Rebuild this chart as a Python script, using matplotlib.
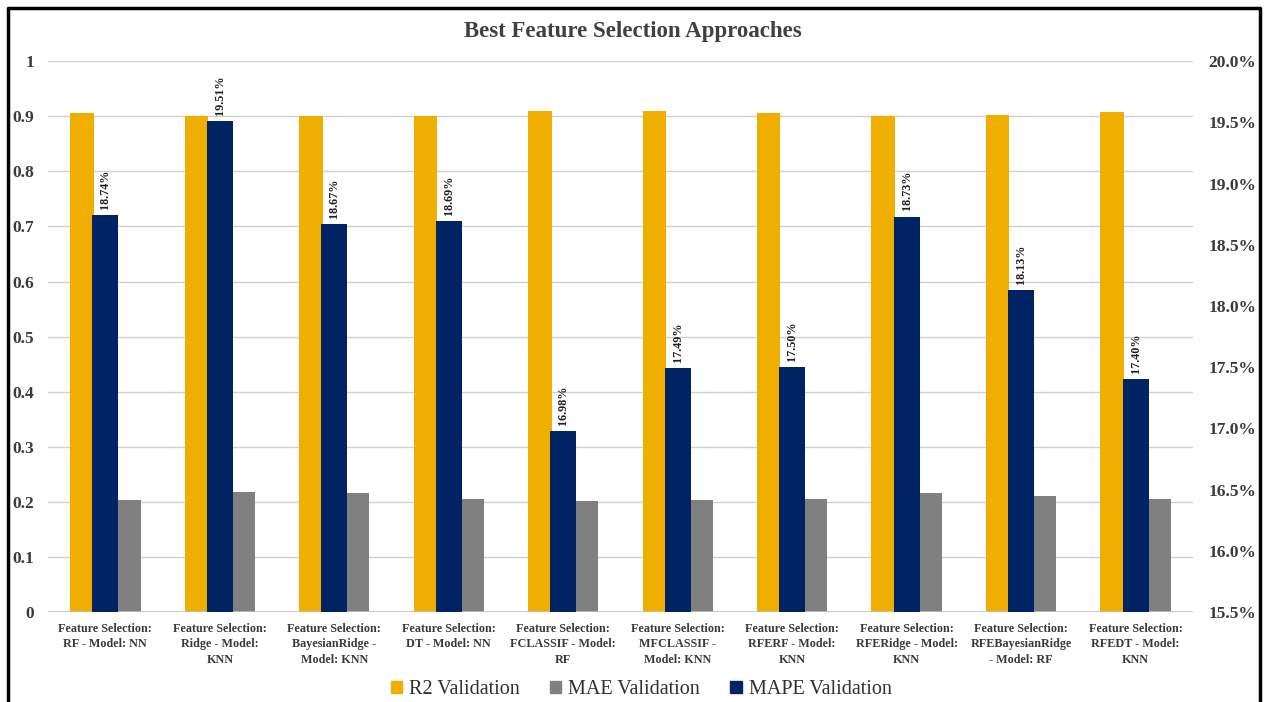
import numpy as np
import matplotlib
matplotlib.use("Agg")
import matplotlib.pyplot as plt
from matplotlib.patches import Patch
from matplotlib.ticker import FuncFormatter

# ---------------------------------------------------------------------------
# Data
# ---------------------------------------------------------------------------
CATEGORIES = [
    "Feature Selection:\nRF - Model: NN",
    "Feature Selection:\nRidge - Model:\nKNN",
    "Feature Selection:\nBayesianRidge -\nModel: KNN",
    "Feature Selection:\nDT - Model: NN",
    "Feature Selection:\nFCLASSIF - Model:\nRF",
    "Feature Selection:\nMFCLASSIF -\nModel: KNN",
    "Feature Selection:\nRFERF - Model:\nKNN",
    "Feature Selection:\nRFERidge - Model:\nKNN",
    "Feature Selection:\nRFEBayesianRidge\n- Model: RF",
    "Feature Selection:\nRFEDT - Model:\nKNN",
]
R2_VAL   = [0.905, 0.900, 0.900, 0.900, 0.910, 0.910, 0.905, 0.900, 0.903, 0.908]
MAE_VAL  = [0.204, 0.218, 0.216, 0.205, 0.201, 0.203, 0.205, 0.216, 0.210, 0.205]
MAPE_VAL = [18.74, 19.51, 18.67, 18.69, 16.98, 17.49, 17.50, 18.73, 18.13, 17.40]

LEFT_TICKS  = [0, 0.1, 0.2, 0.3, 0.4, 0.5, 0.6, 0.7, 0.8, 0.9, 1]
RIGHT_TICKS = [15.5, 16.0, 16.5, 17.0, 17.5, 18.0, 18.5, 19.0, 19.5, 20.0]

# ---------------------------------------------------------------------------
# Style
# ---------------------------------------------------------------------------
ORANGE = "#F0AE00"
GREY   = "#808080"
NAVY   = "#002463"
GRID_C = "#D0D0D0"
TEXT_C = "#3A3A3A"
SERIF  = ["Liberation Serif", "DejaVu Serif"]

plt.rcParams["font.family"] = SERIF

fig = plt.figure(figsize=(12.65, 7.02), dpi=100, facecolor="white")
ax = fig.add_axes([0.038, 0.128, 0.905, 0.785])
ax2 = ax.twinx()

x = np.arange(len(CATEGORIES))
w = 0.205

ax.bar(x - w, R2_VAL, width=w, color=ORANGE, zorder=3, label="R2 Validation")
ax.bar(x + w, MAE_VAL, width=w, color=GREY, zorder=3, label="MAE Validation")
bars = ax2.bar(x, MAPE_VAL, width=w * 1.1, color=NAVY, zorder=3,
               label="MAPE Validation")

ax.set_ylim(0, 1)
ax2.set_ylim(15.5, 20.0)
ax.set_xlim(-0.5, len(CATEGORIES) - 0.5)

ax.set_yticks(LEFT_TICKS)
ax.set_yticklabels([f"{t:g}" for t in LEFT_TICKS])
ax2.set_yticks(RIGHT_TICKS)
ax2.yaxis.set_major_formatter(FuncFormatter(lambda v, _: f"{v:.1f}%"))

ax.grid(axis="y", color=GRID_C, linewidth=1.0, zorder=0)
ax.set_axisbelow(True)

for a in (ax, ax2):
    for sp in a.spines.values():
        sp.set_visible(False)
ax.axhline(0, color="#BFBFBF", linewidth=1.2, zorder=4)

ax.tick_params(axis="y", length=0, pad=10, labelsize=12.5, labelcolor=TEXT_C)
ax2.tick_params(axis="y", length=0, pad=11, labelsize=12.5, labelcolor=TEXT_C)
for lbl in ax.get_yticklabels() + ax2.get_yticklabels():
    lbl.set_fontweight("bold")

ax.set_xticks(x)
ax.set_xticklabels(CATEGORIES, fontsize=8.7, fontweight="bold",
                   color=TEXT_C, linespacing=1.35)
ax.tick_params(axis="x", length=0, pad=8)

# MAPE value labels above the navy bars
for bar, val in zip(bars, MAPE_VAL):
    ax2.text(bar.get_x() + bar.get_width() / 2, val + 0.05, f"{val:.2f}%",
             rotation=90, ha="center", va="bottom", fontsize=8.7,
             fontweight="bold", color="#202020")

fig.text(0.5, 0.955, "Best Feature Selection Approaches", ha="center",
         va="center", fontsize=16.5, fontweight="bold", color="#404040")

handles = [Patch(color=ORANGE, label="R2 Validation"),
           Patch(color=GREY, label="MAE Validation"),
           Patch(color=NAVY, label="MAPE Validation")]
fig.legend(handles=handles, loc="center", bbox_to_anchor=(0.507, 0.018),
           ncol=3, frameon=False, fontsize=14.5, handlelength=0.55,
           handleheight=0.55, handletextpad=0.35, columnspacing=1.5,
           labelcolor="#303030")

# outer frame (left, top, right edges)
fig.add_artist(plt.Line2D([0.006, 0.006, 0.996, 0.996],
                          [-0.1, 0.989, 0.989, -0.1],
                          transform=fig.transFigure, color="black",
                          linewidth=2.5))

fig.savefig("out.png", dpi=100, facecolor="white")
plt.close(fig)
